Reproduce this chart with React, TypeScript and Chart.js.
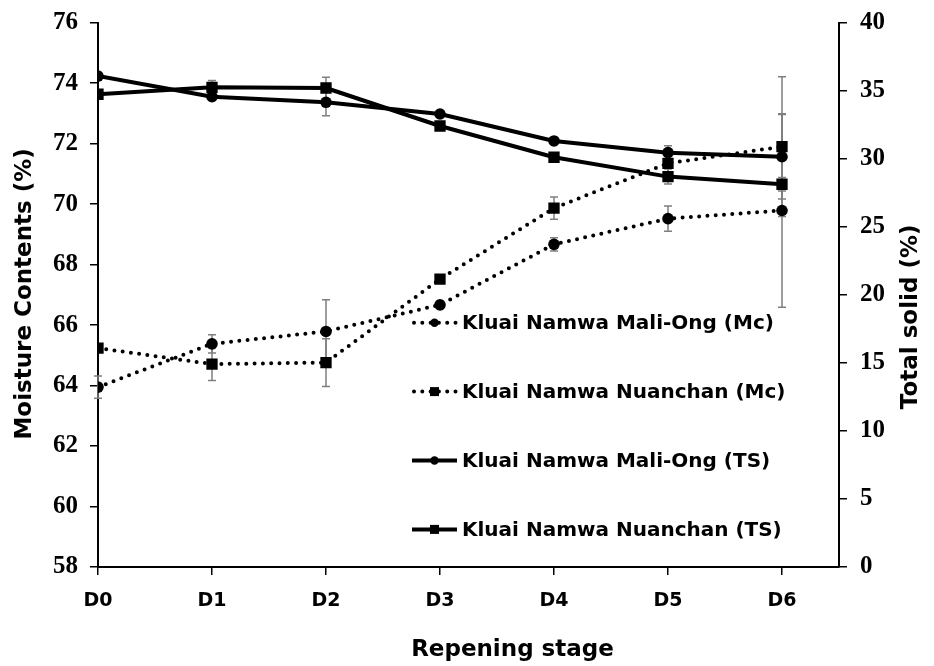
import React, { useEffect, useRef } from 'react';
import { Chart, registerables } from 'chart.js';

Chart.register(...registerables);

// ---- data ----
const stages = ['D0', 'D1', 'D2', 'D3', 'D4', 'D5', 'D6'];
const stagePositions = [0, 1, 2, 3, 4, 5, 6];

const mcMaliOng = [63.95, 65.38, 65.79, 66.67, 68.67, 69.52, 69.79];
const mcMaliOngErr = [0.37, 0.3, 1.05, 0, 0.22, 0.42, 3.2];
const mcNuanchan = [65.24, 64.71, 64.76, 67.52, 69.87, 71.35, 71.9];
const mcNuanchanErr = [0, 0.54, 0.79, 0, 0.37, 0.3, 2.31];
const tsMaliOng = [36.08, 34.56, 34.15, 33.29, 31.31, 30.45, 30.15];
const tsMaliOngErr = [0, 0, 0.98, 0, 0, 0.5, 3.1];
const tsNuanchan = [34.74, 35.25, 35.2, 32.41, 30.11, 28.69, 28.13];
const tsNuanchanErr = [0, 0.5, 0.8, 0, 0, 0.55, 0.5];

const moistureTicks = [58, 60, 62, 64, 66, 68, 70, 72, 74, 76];
const solidTicks = [0, 5, 10, 15, 20, 25, 30, 35, 40];

const legendLabels = [
  'Kluai Namwa Mali-Ong (Mc)',
  'Kluai Namwa Nuanchan (Mc)',
  'Kluai Namwa Mali-Ong (TS)',
  'Kluai Namwa Nuanchan (TS)',
];
const leftTitle = 'Moisture Contents (%)';
const rightTitle = 'Total solid (%)';
const bottomTitle = 'Repening stage';

const SANS = '"DejaVu Sans", Verdana, sans-serif';
const SERIF = '"Liberation Serif", "Times New Roman", serif';

type Series = {
  label: string;
  values: number[];
  errors: number[];
  axis: 'y' | 'y1';
  dotted: boolean;
  marker: 'circle' | 'rect';
};

const series: Series[] = [
  { label: legendLabels[0], values: mcMaliOng, errors: mcMaliOngErr, axis: 'y', dotted: true, marker: 'circle' },
  { label: legendLabels[1], values: mcNuanchan, errors: mcNuanchanErr, axis: 'y', dotted: true, marker: 'rect' },
  { label: legendLabels[2], values: tsMaliOng, errors: tsMaliOngErr, axis: 'y1', dotted: false, marker: 'circle' },
  { label: legendLabels[3], values: tsNuanchan, errors: tsNuanchanErr, axis: 'y1', dotted: false, marker: 'rect' },
];

const DOT_DASH = [0, 8.3];

const errorBarPlugin = {
  id: 'errorBars',
  beforeDatasetsDraw(chart: any) {
    const ctx = chart.ctx;
    const xs = chart.scales.x;
    ctx.save();
    ctx.strokeStyle = '#7f7f7f';
    ctx.lineWidth = 1.5;
    series.forEach((s) => {
      const ys = chart.scales[s.axis];
      s.values.forEach((v, j) => {
        const e = s.errors[j];
        if (!e) return;
        const x = xs.getPixelForValue(stagePositions[j]);
        const yTop = ys.getPixelForValue(v + e);
        const yBot = ys.getPixelForValue(v - e);
        ctx.beginPath();
        ctx.moveTo(x, yTop);
        ctx.lineTo(x, yBot);
        ctx.moveTo(x - 4, yTop);
        ctx.lineTo(x + 4, yTop);
        ctx.moveTo(x - 4, yBot);
        ctx.lineTo(x + 4, yBot);
        ctx.stroke();
      });
    });
    ctx.restore();
  },
};

const legendPlugin = {
  id: 'insideLegend',
  afterDraw(chart: any) {
    const ctx = chart.ctx;
    const area = chart.chartArea;
    const x1 = area.left + 314;
    const x2 = area.left + 359;
    const xm = (x1 + x2) / 2;
    const tx = area.left + 364;
    ctx.save();
    series.forEach((s, i) => {
      const y = area.top + 300 + i * 68.9;
      ctx.strokeStyle = '#000';
      ctx.lineWidth = 4;
      ctx.lineCap = s.dotted ? 'round' : 'butt';
      ctx.setLineDash(s.dotted ? DOT_DASH : []);
      ctx.beginPath();
      ctx.moveTo(x1 + (s.dotted ? 2 : 0), y);
      ctx.lineTo(x2, y);
      ctx.stroke();
      ctx.setLineDash([]);
      ctx.fillStyle = '#000';
      ctx.beginPath();
      if (s.marker === 'circle') {
        ctx.arc(xm, y, 4.2, 0, Math.PI * 2);
      } else {
        ctx.rect(xm - 4.5, y - 4.5, 9, 9);
      }
      ctx.fill();
      ctx.font = `bold 20px ${SANS}`;
      ctx.textAlign = 'left';
      ctx.textBaseline = 'middle';
      ctx.fillText(s.label, tx, y + 1);
    });
    ctx.restore();
  },
};

const titlePlugin = {
  id: 'axisTitles',
  afterDraw(chart: any) {
    const ctx = chart.ctx;
    const area = chart.chartArea;
    ctx.save();
    ctx.fillStyle = '#000';
    ctx.font = `bold 23px ${SANS}`;
    ctx.textAlign = 'center';
    ctx.textBaseline = 'middle';
    // left title
    ctx.save();
    ctx.translate(25, (area.top + area.bottom) / 2 - 1);
    ctx.rotate(-Math.PI / 2);
    ctx.fillText(leftTitle, 0, 0);
    ctx.restore();
    // right title
    ctx.save();
    ctx.translate(area.right + 72, (area.top + area.bottom) / 2 + 22);
    ctx.rotate(-Math.PI / 2);
    ctx.fillText(rightTitle, 0, 0);
    ctx.restore();
    // bottom title
    ctx.fillText(bottomTitle, (area.left + area.right) / 2 + 44, area.bottom + 83);
    ctx.restore();
  },
};

export default function App() {
  const canvasRef = useRef<HTMLCanvasElement | null>(null);

  useEffect(() => {
    const canvas = canvasRef.current;
    if (!canvas) return;

    const datasets = series.map((s) => ({
      label: s.label,
      data: s.values.map((v, j) => ({ x: stagePositions[j], y: v })),
      yAxisID: s.axis,
      borderColor: '#000',
      backgroundColor: '#000',
      borderWidth: 4,
      borderDash: s.dotted ? DOT_DASH : [],
      borderCapStyle: s.dotted ? 'round' : 'butt',
      borderJoinStyle: 'round',
      pointStyle: s.marker,
      pointRadius: s.marker === 'rect' ? 8 : 5.8,
      pointBorderWidth: 0,
      pointBackgroundColor: '#000',
      tension: 0,
      fill: false,
    }));

    const tickFontSerif = { family: SERIF, size: 25, weight: 'bold' as const };

    const fitVertical = (width: number) => (scale: any) => {
      scale.width = width;
      scale.paddingTop = 0;
      scale.paddingBottom = 0;
    };

    const chart = new Chart(canvas, {
      type: 'line',
      data: { datasets: datasets as any },
      options: {
        animation: false,
        responsive: false,
        devicePixelRatio: 1,
        layout: { padding: { top: 22.7, left: 0, right: 0, bottom: 0 } },
        plugins: {
          legend: { display: false },
          tooltip: { enabled: false },
        },
        scales: {
          x: {
            type: 'linear',
            min: 0,
            max: 6.5,
            afterBuildTicks: (axis: any) => {
              axis.ticks = stagePositions.map((v) => ({ value: v }));
            },
            afterFit: (scale: any) => {
              scale.height = 99;
              scale.paddingLeft = 0;
              scale.paddingRight = 0;
            },
            ticks: {
              callback: (v: any) => stages[Number(v)] ?? '',
              font: { family: SANS, size: 19, weight: 'bold' },
              color: '#000',
              padding: 15,
              maxRotation: 0,
              autoSkip: false,
            },
            grid: { drawOnChartArea: false, drawTicks: true, tickLength: 8, color: '#000', lineWidth: 1.5 },
            border: { display: true, color: '#000', width: 2 },
          },
          y: {
            type: 'linear',
            position: 'left',
            min: 58,
            max: 76,
            afterBuildTicks: (axis: any) => {
              axis.ticks = moistureTicks.map((v) => ({ value: v }));
            },
            afterFit: fitVertical(98),
            ticks: { font: tickFontSerif, color: '#000', padding: 12 },
            grid: { drawOnChartArea: false, drawTicks: true, tickLength: 8, color: '#000', lineWidth: 1.5 },
            border: { display: true, color: '#000', width: 2 },
          },
          y1: {
            type: 'linear',
            position: 'right',
            min: 0,
            max: 40,
            afterBuildTicks: (axis: any) => {
              axis.ticks = solidTicks.map((v) => ({ value: v }));
            },
            afterFit: fitVertical(95),
            ticks: { font: tickFontSerif, color: '#000', padding: 13 },
            grid: { drawOnChartArea: false, drawTicks: true, tickLength: 8, color: '#000', lineWidth: 1.5 },
            border: { display: true, color: '#000', width: 2 },
          },
        },
      },
      plugins: [errorBarPlugin, legendPlugin, titlePlugin],
    });

    return () => {
      chart.destroy();
    };
  }, []);

  return (
    <div style={{ position: 'absolute', left: 0, top: 0, width: 934, height: 666, background: '#fff' }}>
      <canvas ref={canvasRef} width={934} height={666} style={{ display: 'block', width: 934, height: 666 }} />
    </div>
  );
}
